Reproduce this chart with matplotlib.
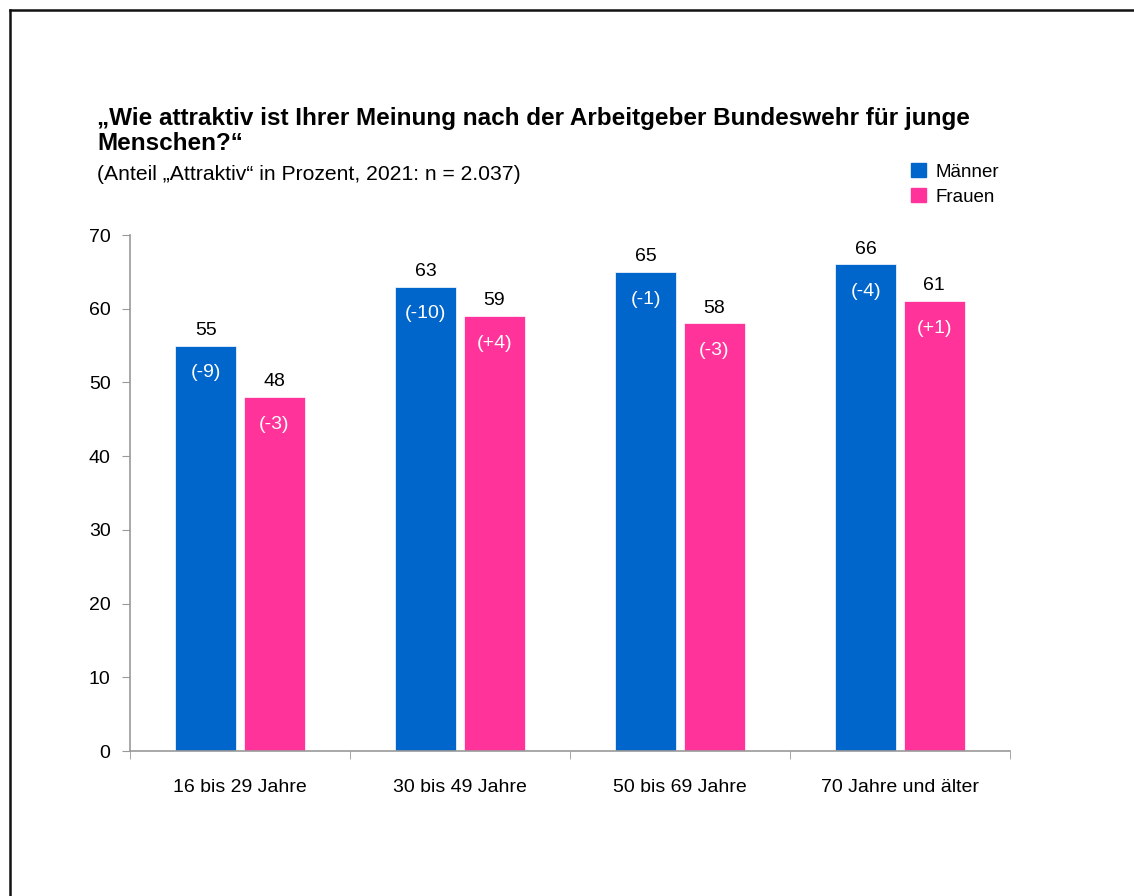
import numpy as np
import matplotlib
matplotlib.use("Agg")
import matplotlib.pyplot as plt
from matplotlib.lines import Line2D
from matplotlib.patches import Patch

plt.rcParams["font.family"] = ["Liberation Sans", "DejaVu Sans"]

categories = ["16 bis 29 Jahre", "30 bis 49 Jahre", "50 bis 69 Jahre", "70 Jahre und älter"]
maenner = [55, 63, 65, 66]
frauen = [48, 59, 58, 61]
maenner_diff = ["(-9)", "(-10)", "(-1)", "(-4)"]
frauen_diff = ["(-3)", "(+4)", "(-3)", "(+1)"]

title_lines = ["„Wie attraktiv ist Ihrer Meinung nach der Arbeitgeber Bundeswehr für junge", "Menschen?“"]
subtitle = "(Anteil „Attraktiv“ in Prozent, 2021: n = 2.037)"

BLUE = "#0066CC"
PINK = "#FF3399"

W, H = 1134, 896
fig = plt.figure(figsize=(W / 100, H / 100), dpi=100)
ax = fig.add_axes([130 / W, 1 - 751 / H, 880 / W, 516 / H])

x = np.arange(len(categories))
w = 0.277
off = 0.155
b1 = ax.bar(x - off, maenner, w, color=BLUE, edgecolor="white", linewidth=0.5)
b2 = ax.bar(x + off, frauen, w, color=PINK, edgecolor="white", linewidth=0.5)

for rects, vals, diffs in [(b1, maenner, maenner_diff), (b2, frauen, frauen_diff)]:
    for r, v, d in zip(rects, vals, diffs):
        cx = r.get_x() + r.get_width() / 2
        ax.annotate(str(v), (cx, v), xytext=(0, 5), textcoords="offset points",
                    ha="center", va="bottom", fontsize=14)
        ax.annotate(d, (cx, v), xytext=(0, -13.5), textcoords="offset points",
                    ha="center", va="top", fontsize=14, color="white")

ax.set_xlim(-0.5, len(categories) - 0.5)
ax.set_ylim(0, 70)
ax.set_yticks(range(0, 71, 10))
ax.set_xticks(x)
ax.set_xticklabels(categories, fontsize=14)
ax.set_xticks(np.arange(-0.5, len(categories)), minor=True)
ax.tick_params(axis="x", which="major", length=0, pad=20)
ax.tick_params(axis="x", which="minor", length=6, color="#999999", direction="out")
ax.tick_params(axis="y", labelsize=14, length=6, color="#999999", pad=8)
for s in ["top", "right"]:
    ax.spines[s].set_visible(False)
for s in ["left", "bottom"]:
    ax.spines[s].set_color("#999999")
    ax.spines[s].set_linewidth(1.2)

fig.text(97 / W, 1 - 119 / H, title_lines[0], fontsize=17.5, fontweight="bold", va="center", ha="left")
fig.text(97 / W, 1 - 144 / H, title_lines[1], fontsize=17.5, fontweight="bold", va="center", ha="left")
fig.text(97 / W, 1 - 174 / H, subtitle, fontsize=15.2, va="center", ha="left")

handles = [Patch(color=BLUE), Patch(color=PINK)]
fig.legend(handles, ["Männer", "Frauen"], loc="upper left",
           bbox_to_anchor=(894 / W, 1 - 146 / H), frameon=False, fontsize=13.5,
           handlelength=0.8, handleheight=0.8, handletextpad=0.5, labelspacing=0.4)

# border lines (left and top)
fig.add_artist(Line2D([10 / W, 10 / W], [0, 1 - 10 / H], color="#111111", lw=1.8))
fig.add_artist(Line2D([10 / W, 1], [1 - 10 / H, 1 - 10 / H], color="#111111", lw=1.8))

fig.savefig("out.png", dpi=100)
